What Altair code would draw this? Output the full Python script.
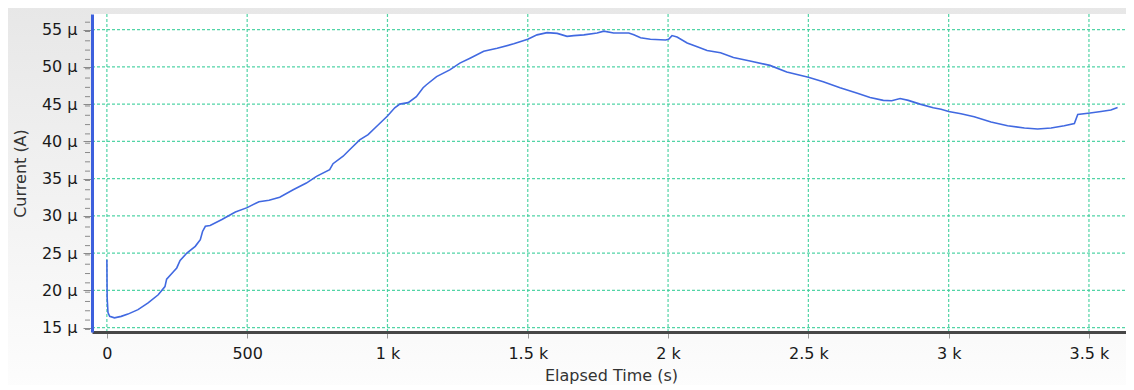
import altair as alt
import pandas as pd

# --- data ---
elapsed_s = [0, 1, 4, 10, 27, 51, 75, 111, 147, 183, 207, 213, 237, 249, 261, 285, 315, 333, 341, 351,
             368, 410, 458, 500, 542, 578, 616, 664, 711, 747, 794, 806, 842, 866, 901, 931, 961, 1000,
             1026, 1044, 1074, 1103, 1127, 1139, 1175, 1222, 1258, 1296, 1343, 1391, 1450, 1500, 1533,
             1569, 1605, 1640, 1664, 1700, 1747, 1771, 1806, 1860, 1878, 1902, 1937, 1991, 2002, 2014,
             2032, 2068, 2104, 2139, 2187, 2233, 2292, 2363, 2423, 2500, 2553, 2613, 2672, 2720, 2767,
             2797, 2827, 2856, 2898, 2945, 2973, 3000, 3044, 3091, 3151, 3210, 3270, 3317, 3365, 3412,
             3448, 3460, 3504, 3543, 3578, 3602]
current_uA = [24.1, 19.0, 17.0, 16.5, 16.3, 16.5, 16.8, 17.4, 18.3, 19.4, 20.5, 21.5, 22.5, 23.0, 24.0,
              25.0, 25.9, 26.8, 27.9, 28.6, 28.7, 29.5, 30.5, 31.1, 31.9, 32.1, 32.5, 33.5, 34.4, 35.3,
              36.2, 37.0, 38.0, 38.9, 40.2, 40.9, 42.0, 43.4, 44.5, 45.0, 45.2, 46.0, 47.2, 47.6, 48.7,
              49.6, 50.5, 51.2, 52.1, 52.5, 53.1, 53.7, 54.3, 54.6, 54.5, 54.1, 54.2, 54.3, 54.55, 54.8,
              54.55, 54.55, 54.3, 53.9, 53.7, 53.6, 53.7, 54.2, 54.0, 53.2, 52.7, 52.2, 51.9, 51.25, 50.8,
              50.2, 49.3, 48.6, 48.0, 47.2, 46.5, 45.9, 45.5, 45.45, 45.75, 45.5, 45.0, 44.5, 44.3, 44.0,
              43.7, 43.3, 42.6, 42.1, 41.8, 41.65, 41.8, 42.1, 42.4, 43.6, 43.8, 44.0, 44.2, 44.55]

x_ticks = [0, 500, 1000, 1500, 2000, 2500, 3000, 3500]
y_ticks = [15, 20, 25, 30, 35, 40, 45, 50, 55]
y_minor = [14.75 + 1.25 * i for i in range(34)]

W, H = 1034, 318
FONT = "DejaVu Sans"
FS = 16

df = pd.DataFrame({"t": elapsed_s, "i": current_uA})

xs = alt.Scale(domain=[-53, 3632], nice=False, zero=False)
ys = alt.Scale(domain=[14.4, 57.1], nice=False, zero=False)

x_axis = alt.Axis(values=x_ticks, grid=False, title="Elapsed Time (s)", labelOverlap=False,
                  labelExpr="datum.value >= 1000 ? (datum.value / 1000) + ' k' : datum.label",
                  domainColor="#474747", domainWidth=3, tickColor="#9a9a9a", tickSize=6,
                  labelPadding=7, labelFontSize=FS, labelFont=FONT, labelColor="#1a1a1a",
                  titleFont=FONT, titleFontSize=FS, titleFontWeight="normal", titleColor="#333333",
                  titleX=519, titleY=43, titleBaseline="middle", titleAlign="center",
                  zindex=1)
y_axis = alt.Axis(values=y_ticks, grid=False, title="Current (A)", labelOverlap=False,
                  labelExpr="datum.value + ' μ'",
                  domainColor="#3d60dd", domainWidth=3, tickColor="#8a8a8a", tickSize=9,
                  labelPadding=6, labelFontSize=FS, labelFont=FONT, labelColor="#1a1a1a",
                  titleFont=FONT, titleFontSize=FS, titleFontWeight="normal", titleColor="#333333",
                  titleX=-72, titleY=H / 2, titleAngle=-90, titleBaseline="middle",
                  titleAlign="center", zindex=1)

bg = alt.Chart(alt.Data(values=[{}])).mark_rect(
    color=alt.LinearGradient(
        gradient="linear",
        stops=[alt.GradientStop(color="#e7e7e7", offset=0),
               alt.GradientStop(color="#fdfdfd", offset=1)],
        x1=0, x2=0, y1=0, y2=1),
).encode(x=alt.value(-90), x2=alt.value(W + 10), y=alt.value(-10), y2=alt.value(H + 60))

plot_bg = alt.Chart(alt.Data(values=[{}])).mark_rect(color="white").encode(
    x=alt.value(0), x2=alt.value(W), y=alt.value(0), y2=alt.value(H))

grid_color = "#3fcf9c"
vgrid = alt.Chart(pd.DataFrame({"v": x_ticks})).mark_rule(
    color=grid_color, strokeDash=[3, 2], strokeWidth=1.2, opacity=0.9
).encode(x=alt.X("v:Q", scale=xs, axis=x_axis), y=alt.value(0), y2=alt.value(H))

hgrid = alt.Chart(pd.DataFrame({"v": y_ticks})).mark_rule(
    color=grid_color, strokeDash=[3, 2], strokeWidth=1.2, opacity=0.9
).encode(y=alt.Y("v:Q", scale=ys, axis=y_axis), x=alt.value(0), x2=alt.value(W))

minor = alt.Chart(pd.DataFrame({"v": y_minor})).transform_filter(
    "datum.v >= 14.4 && datum.v <= 57.1"
).mark_rule(color="#8a8a8a", strokeWidth=1).encode(
    y=alt.Y("v:Q", scale=ys, axis=y_axis), x=alt.value(-7), x2=alt.value(-2))

line = alt.Chart(df).mark_line(color="#4169e1", strokeWidth=1.6, interpolate="linear").encode(
    x=alt.X("t:Q", scale=xs, axis=x_axis),
    y=alt.Y("i:Q", scale=ys, axis=y_axis),
)

chart = alt.layer(bg, plot_bg, vgrid, hgrid, minor, line).properties(
    width=W, height=H,
    autosize=alt.AutoSizeParams(type="none"),
    padding={"left": 84, "top": 6, "right": 0, "bottom": 53},
).configure_view(stroke="#2a2a2a", strokeWidth=2).configure(background="#f4f4f4")

chart.save("out.html", embed_options={"renderer": "svg", "actions": False})
